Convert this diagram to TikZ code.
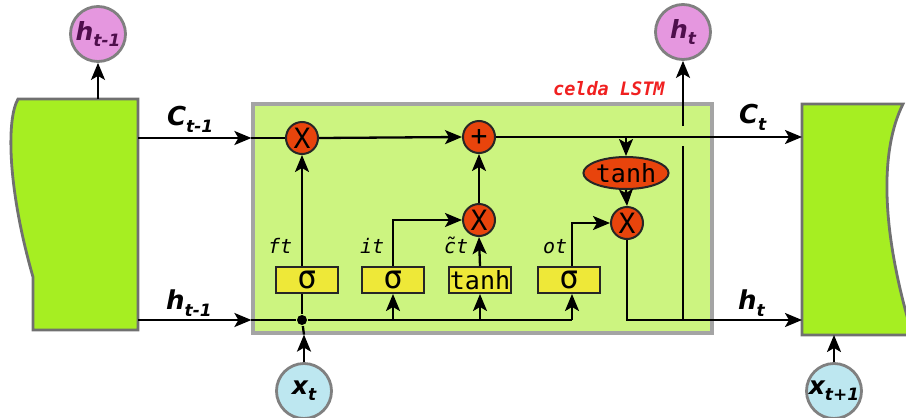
\documentclass[tikz,border=0pt]{standalone}
\usepackage{fontspec}
\setmainfont{DejaVu Sans}[BoldFont={DejaVu Sans Bold},ItalicFont={DejaVu Sans Oblique},BoldItalicFont={DejaVu Sans Bold Oblique}]
\newfontfamily\monof{DejaVu Sans Mono}[BoldFont={DejaVu Sans Mono Bold},ItalicFont={DejaVu Sans Mono Oblique},BoldItalicFont={DejaVu Sans Mono Bold Oblique}]
\usetikzlibrary{arrows.meta,shapes.geometric}
\definecolor{shapegreen}{HTML}{A6EE22}
\definecolor{cellgreen}{HTML}{CCF480}
\definecolor{opred}{HTML}{E8440C}
\definecolor{gateyel}{HTML}{EEE838}
\definecolor{pinkc}{HTML}{E597DF}
\definecolor{bluec}{HTML}{BDE7F0}
\definecolor{purptext}{HTML}{4E0F4C}
\definecolor{edgegray}{HTML}{707070}
\definecolor{cellgray}{HTML}{A4A4A4}
\definecolor{redtext}{HTML}{F02020}
\newcommand\biglab[2]{{\fontsize{26}{26}\selectfont\bfseries\itshape #1\raisebox{-7pt}{\fontsize{17}{17}\selectfont #2}}}
\newcommand\circlab[2]{{\fontsize{25}{25}\selectfont\bfseries\itshape #1\raisebox{-6pt}{\fontsize{17}{17}\selectfont #2}}}
\newcommand\tildec{\ooalign{c\cr\hidewidth\raisebox{1pt}{\char"02DC}\hidewidth}}
\begin{document}
\begin{tikzpicture}[x=1pt,y=-1pt,
  arr/.style={-{Stealth[length=17pt,width=14pt,inset=4pt]}},
  every path/.style={line width=2.3pt},
  blob/.style={fill=shapegreen,draw=edgegray,line width=2.8pt},
  cellbox/.style={rectangle,fill=cellgreen,draw=cellgray,line width=3.2pt,minimum width=459pt,minimum height=229pt,inner sep=0pt},
  op/.style={circle,fill=opred,draw=black!85,line width=2pt,minimum size=32pt,inner sep=0pt,font=\monof\fontsize{28}{28}\selectfont},
  gate/.style={rectangle,fill=gateyel,draw=black!85,line width=2pt,minimum width=62pt,minimum height=26pt,inner sep=0pt,font=\monof\fontsize{32}{32}\selectfont},
  tgate/.style={gate,font=\monof\fontsize{25}{25}\selectfont},
  tanhell/.style={ellipse,fill=opred,draw=black!85,line width=2pt,minimum width=78pt,minimum height=32pt,inner sep=0pt,font=\monof\fontsize{25}{25}\selectfont},
  hcirc/.style={circle,fill=pinkc,draw=gray,line width=2.8pt,minimum size=55pt,inner sep=0pt,text=purptext},
  xcirc/.style={circle,fill=bluec,draw=gray,line width=2.8pt,minimum size=55pt,inner sep=0pt,text=black},
  glab/.style={anchor=base west,inner sep=0pt,font=\monof\itshape\fontsize{20}{20}\selectfont},
  biglabel/.style={anchor=base west,inner sep=0pt}]
\useasboundingbox (0,0) rectangle (906,418);
% side blocks
\draw[blob] (18,99) -- (138,99) -- (138,330) -- (33,330) -- (33,277) .. controls (8,190) and (6,120) .. (18,99) -- cycle;
\draw[blob] (802,104) -- (903,104) .. controls (880,150) and (880,230) .. (914,340) -- (914,335) -- (802,335) -- cycle;
% cell
\node[cellbox] (cell) at (482.5,218.5) {};
\node[anchor=base west,inner sep=0pt,text=redtext,font=\monof\bfseries\itshape\fontsize{18.5}{18.5}\selectfont] (celllab) at (552,95) {celda LSTM};
% coordinates on the side blocks
\coordinate (Lc) at (138,138);
\coordinate (Lh) at (138,320);
\coordinate (Lt) at (98,99);
\coordinate (Rc) at (802,137);
\coordinate (Rh) at (802,320);
\coordinate (Rb) at (834,335);
% operators
\node[op] (x1) at (302,138) {X};
\node[op] (plus) at (479,137) {+};
\node[op] (x2) at (479,220) {X};
\node[op] (x3) at (627,223) {X};
\node[tanhell] (th) at (626,173) {tanh};
% gates
\node[gate] (s1) at (307,280) {σ};
\node[gate] (s2) at (393,280) {σ};
\node[tgate] (tb) at (480,280) {tanh};
\node[gate] (s3) at (569,280) {σ};
% gate labels
\node[glab] (lf) at (267,253) {ft};
\node[glab] (li) at (359,253) {it};
\node[glab] (lc) at (443,253) {\tildec t};
\node[glab] (lo) at (542,253) {ot};
% outer circles
\node[hcirc] (hprev) at (98,34) {\circlab{h}{t-1}};
\node[hcirc] (ht) at (683,32) {\circlab{h}{t}};
\node[xcirc] (xt) at (304,391) {\circlab{x}{t}};
\node[xcirc] (xn) at (834,391) {\circlab{x}{t+1}};
% big labels
\node[biglabel] (lct1) at (166,125) {\biglab{C}{t-1}};
\node[biglabel] (lht1) at (165,309) {\biglab{h}{t-1}};
\node[biglabel] (lct) at (738,123) {\biglab{C}{t}};
\node[biglabel] (lht) at (737,309) {\biglab{h}{t}};
% junction
\node[circle,fill=black,inner sep=0pt,minimum size=10pt] (j) at (302,320) {};
\coordinate (k3) at (572,320);
\coordinate (br1) at (683,146);
\coordinate (br2) at (683,126);
% connectors
\draw[arr] (Lt) -- (hprev.south);
\draw[arr] (Lc) -- (Lc -| cell.west);
\draw (Lc -| cell.west) -- (x1.west);
\draw[arr] (Lh) -- (Lh -| cell.west);
\draw (Lh -| cell.west) -- (j) -- (k3);
\draw[arr] (k3) -- (k3 |- s3.south);
\draw (j) -- (j |- s1.south);
\draw[arr] (j |- s1.north) -- (x1.south);
\draw[arr] (s2.south |- j) -- (s2.south);
\draw[arr] (tb.south |- j) -- (tb.south);
\draw[arr] (s2.north) |- (x2.west);
\draw[arr] (tb.north) -- (x2.south);
\draw[arr] (x2.north) -- (plus.south);
\draw[arr] (x1.east) -- (plus.west);
\draw[arr] (plus.east) -- (Rc);
\draw[arr] (th.north |- plus) -- (th.north);
\draw[arr] (th.south) -- (x3.north);
\draw[arr] (k3 |- s3.north) |- (x3.west);
\draw[arr] (x3.south) |- (Rh);
\draw (br1 |- Rh) -- (br1);
\draw[arr] (br2) -- (ht.south);
\draw[arr] (xt.north) -- (xt.north |- cell.south);
\draw (xt.north |- cell.south) -- (j);
\draw[arr] (xn.north) -- (Rb);
\end{tikzpicture}
\end{document}
